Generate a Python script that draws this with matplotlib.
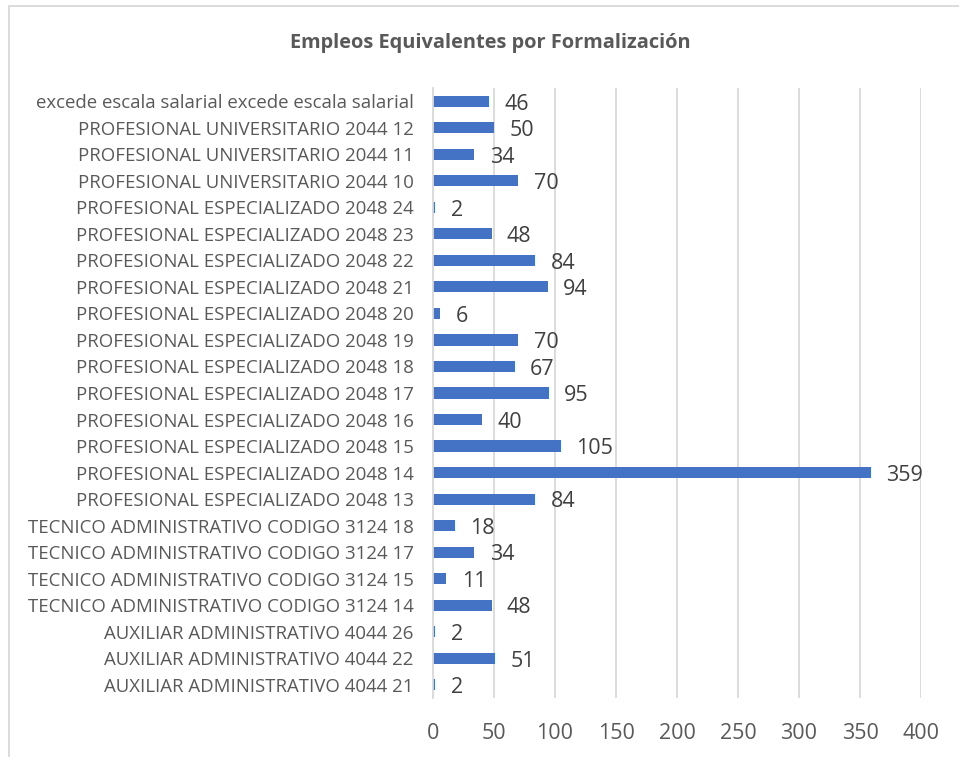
import matplotlib.pyplot as plt
from matplotlib.patches import Rectangle

categories = [
    "AUXILIAR ADMINISTRATIVO 4044 21",
    "AUXILIAR ADMINISTRATIVO 4044 22",
    "AUXILIAR ADMINISTRATIVO 4044 26",
    "TECNICO ADMINISTRATIVO CODIGO 3124 14",
    "TECNICO ADMINISTRATIVO CODIGO 3124 15",
    "TECNICO ADMINISTRATIVO CODIGO 3124 17",
    "TECNICO ADMINISTRATIVO CODIGO 3124 18",
    "PROFESIONAL ESPECIALIZADO 2048 13",
    "PROFESIONAL ESPECIALIZADO 2048 14",
    "PROFESIONAL ESPECIALIZADO 2048 15",
    "PROFESIONAL ESPECIALIZADO 2048 16",
    "PROFESIONAL ESPECIALIZADO 2048 17",
    "PROFESIONAL ESPECIALIZADO 2048 18",
    "PROFESIONAL ESPECIALIZADO 2048 19",
    "PROFESIONAL ESPECIALIZADO 2048 20",
    "PROFESIONAL ESPECIALIZADO 2048 21",
    "PROFESIONAL ESPECIALIZADO 2048 22",
    "PROFESIONAL ESPECIALIZADO 2048 23",
    "PROFESIONAL ESPECIALIZADO 2048 24",
    "PROFESIONAL UNIVERSITARIO 2044 10",
    "PROFESIONAL UNIVERSITARIO 2044 11",
    "PROFESIONAL UNIVERSITARIO 2044 12",
    "excede escala salarial excede escala salarial",
]
values = [2, 51, 2, 48, 11, 34, 18, 84, 359, 105, 40, 95, 67, 70, 6, 94, 84, 48, 2, 70, 34, 50, 46]
x_ticks = [0, 50, 100, 150, 200, 250, 300, 350, 400]

plt.rcParams["font.family"] = ["Open Sans", "DejaVu Sans"]

fig = plt.figure(figsize=(9.59, 7.57), dpi=100)
ax = fig.add_axes([0.4515, 0.0779, 0.5089, 0.8059])

ypos = range(len(categories))
ax.barh(ypos, values, height=0.42, color="#4472c4", zorder=3)
for y, v in zip(ypos, values):
    ax.annotate(str(v), (v, y), xytext=(11, -2), textcoords="offset points",
                va="center", ha="left", fontsize=15.5, color="#404040")

ax.set_xlim(0, 400)
ax.set_ylim(-0.5, len(categories) - 0.5)
ax.set_xticks(x_ticks)
ax.set_yticks(list(ypos))
ax.set_yticklabels(categories)
ax.tick_params(axis="x", length=0, pad=18, labelsize=15.5, labelcolor="#595959")
ax.tick_params(axis="y", length=0, pad=14, labelsize=13.4, labelcolor="#595959")
ax.grid(axis="x", color="#d9d9d9", lw=1.3, zorder=0)
for s in ["top", "right", "bottom"]:
    ax.spines[s].set_visible(False)
ax.spines["left"].set_color("#d9d9d9")
ax.spines["left"].set_linewidth(1.3)
ax.spines["left"].set_zorder(4)

fig.text(0.511, 0.943, "Empleos Equivalentes por Formalización", ha="center", va="center",
         fontsize=14.4, fontweight="bold", color="#595959")

fig.patches.append(Rectangle((9 / 959, -0.05), 1.1, 1.05 - 6 / 757, transform=fig.transFigure,
                             fill=False, edgecolor="#d9d9d9", lw=1.3))

fig.savefig("out.png", dpi=100)
